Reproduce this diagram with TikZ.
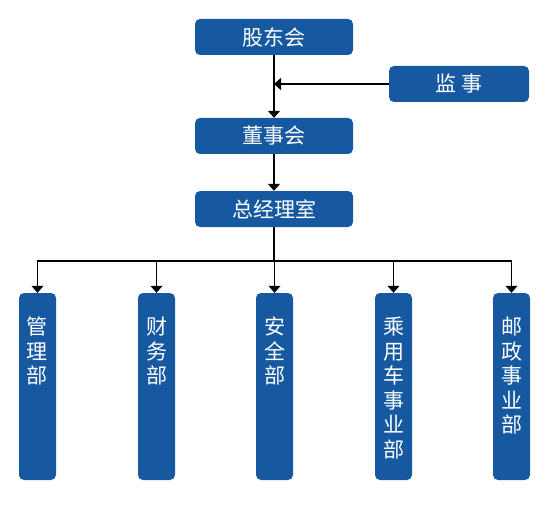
\documentclass[tikz,border=0pt]{standalone}
\usepackage{fontspec}
\setmainfont{Noto Sans CJK SC}
\usetikzlibrary{arrows.meta}
\definecolor{boxblue}{RGB}{22,89,160}
\tikzset{
  box/.style={fill=boxblue,rounded corners=5pt,minimum width=158pt,minimum height=36pt,
    inner sep=0pt,text=white,font=\fontsize{21}{24}\selectfont},
  dept/.style={fill=boxblue,rounded corners=5pt,minimum width=37pt,minimum height=187pt,inner sep=0pt},
  deptlabel/.style={anchor=north,yshift=-24pt,inner sep=0pt,align=center,text=white,
    font=\fontsize{21}{24.5}\selectfont},
  arr/.style={line width=1.2pt,-{Triangle[length=7pt,width=12pt]}}
}
\begin{document}
\begin{tikzpicture}[x=1pt,y=-1pt]
  \useasboundingbox (0,0) rectangle (547,519);
  \node[box] (gdh) at (274,37) {股东会};
  \node[box,minimum width=140pt] (js) at (459,84) {监\ 事};
  \node[box] (dsh) at (274,136) {董事会};
  \node[box] (zjl) at (274,209) {总经理室};
  \draw[arr] (gdh) -- (dsh);
  \draw[arr] (js) -- (js -| gdh);
  \draw[arr] (dsh) -- (zjl);
  \coordinate (bus) at (274,261);
  \foreach \x/\t [count=\i] in {37.5/{管\\理\\部},156.5/{财\\务\\部},274.5/{安\\全\\部},
      393.5/{乘\\用\\车\\事\\业\\部},511.5/{邮\\政\\事\\业\\部}}
  {
    \node[dept,label={[deptlabel]north:\t}] (d\i) at (\x,386.5) {};
    \draw[arr] (zjl.south) -- (bus) -| (d\i.north);
  }
\end{tikzpicture}
\end{document}
